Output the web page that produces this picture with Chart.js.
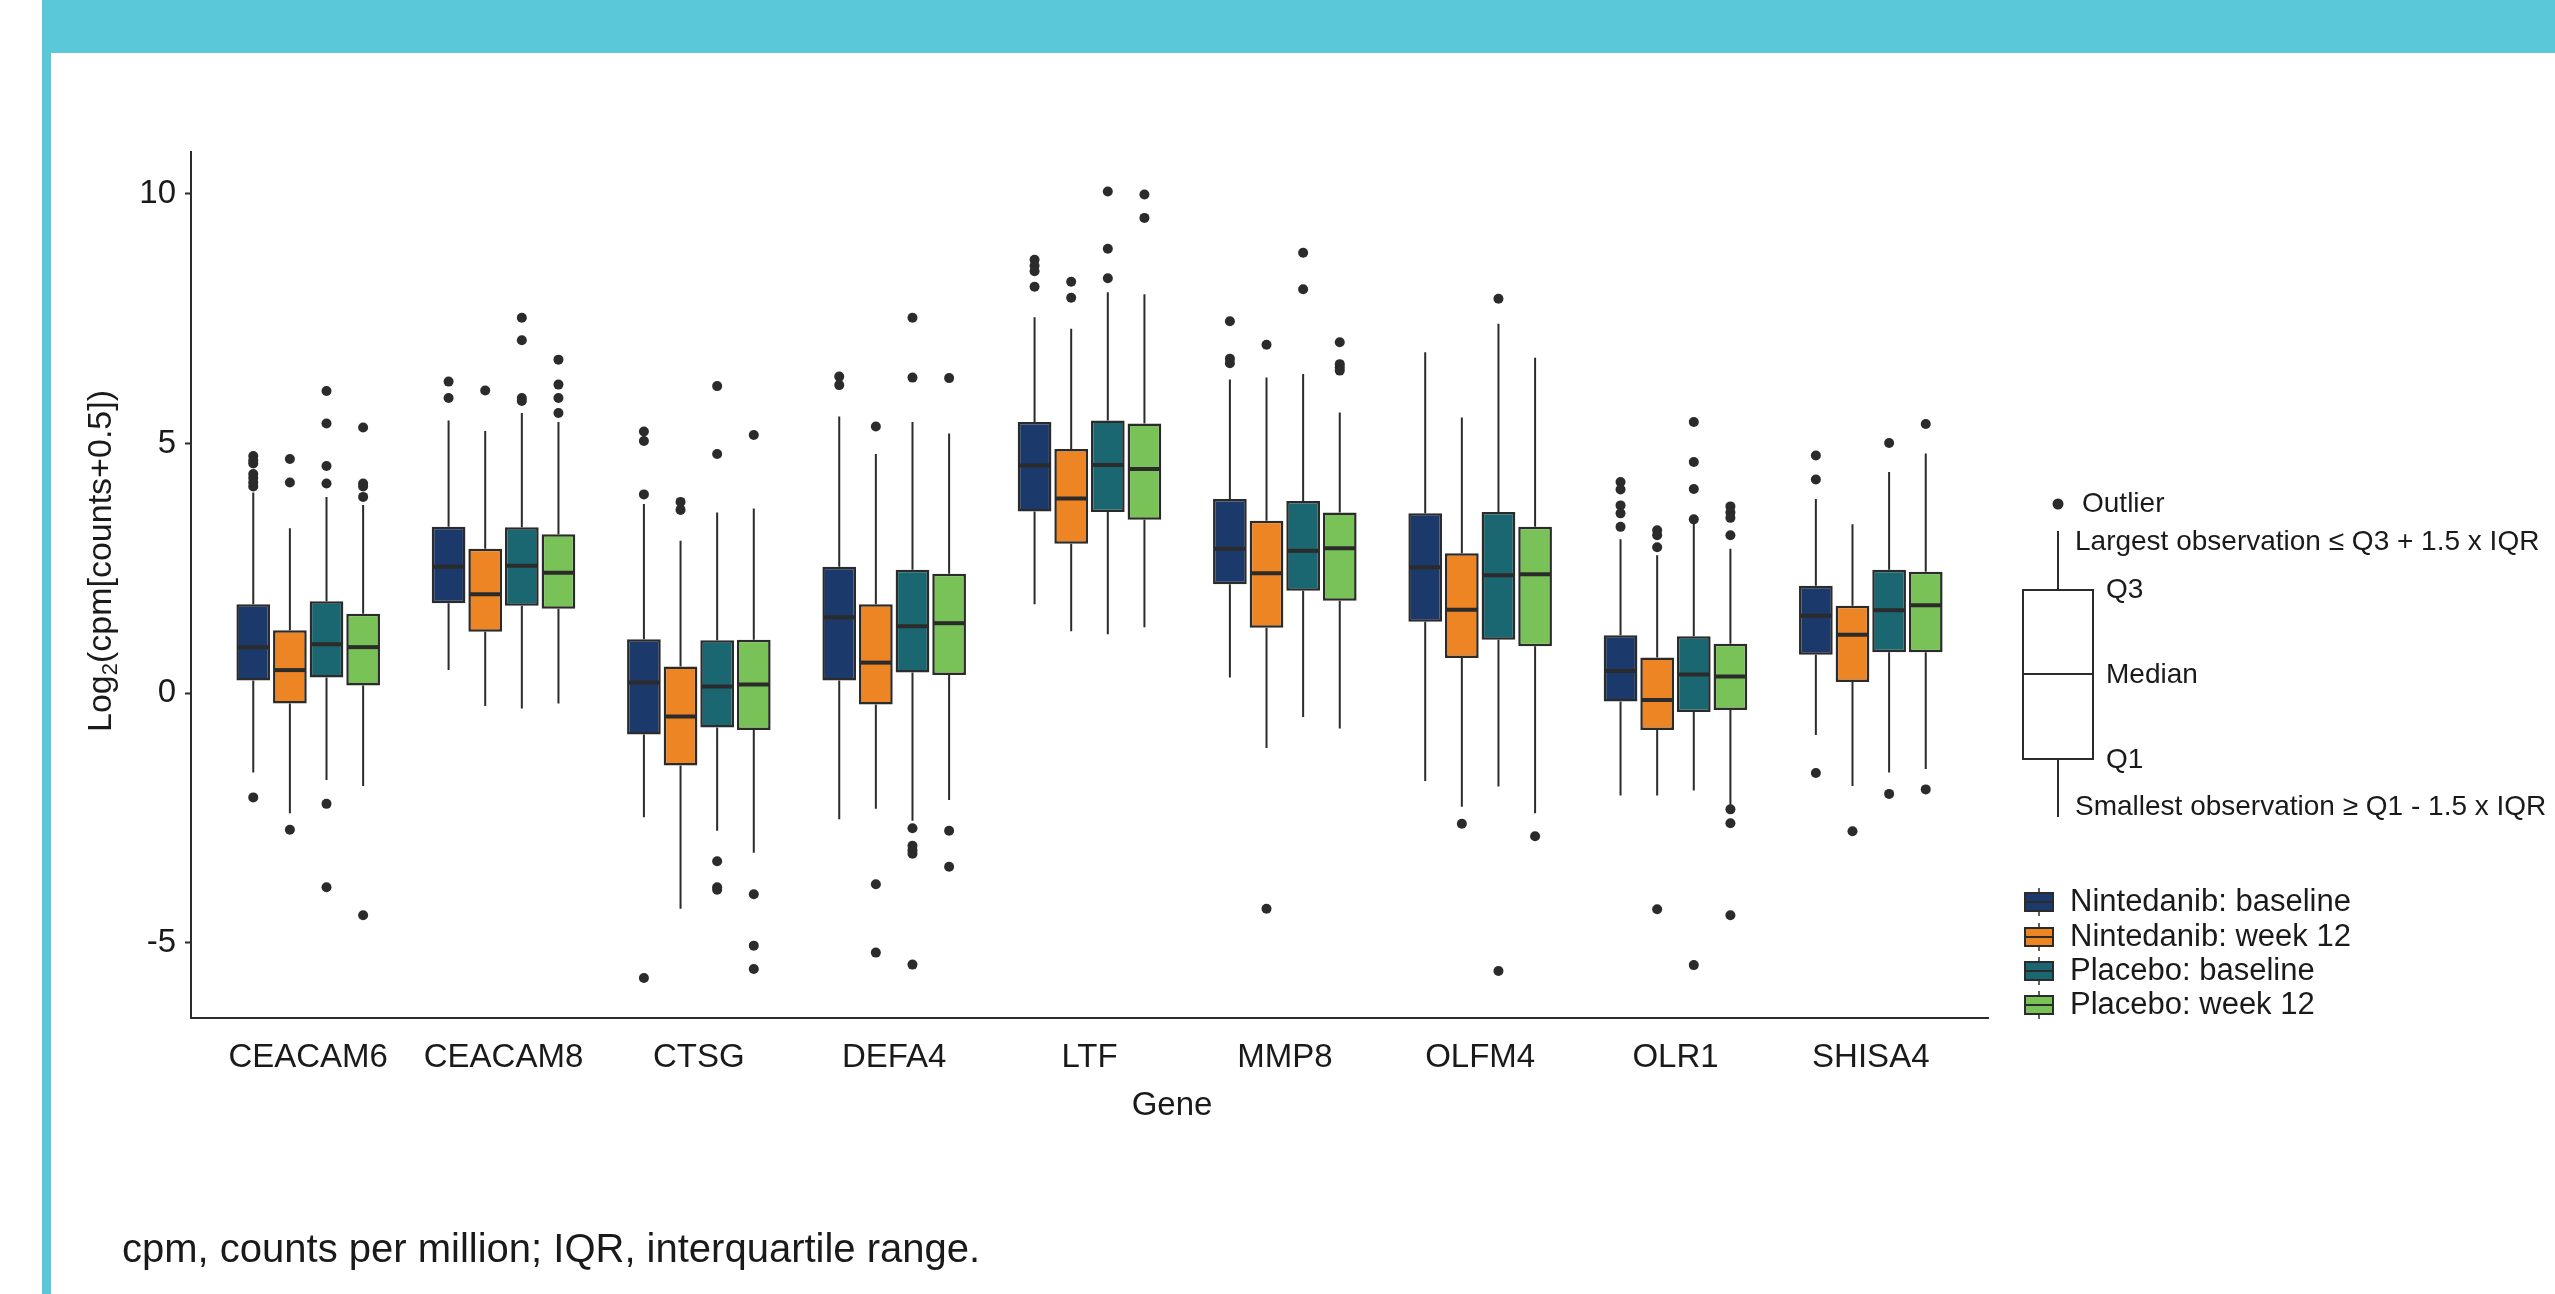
<!DOCTYPE html>
<html lang="en">
<head>
<meta charset="UTF-8">
<title>Gene expression boxplot</title>
<script src="https://cdn.jsdelivr.net/npm/chart.js"></script>
<style>
  html, body { margin: 0; padding: 0; background: #fff; }
  #wrap { position: relative; width: 2555px; height: 1294px; }
</style>
</head>
<body>
<div id="wrap"><canvas id="grafico" width="2555" height="1294"></canvas></div>

<script>
// categories and series
var genes = ['CEACAM6', 'CEACAM8', 'CTSG', 'DEFA4', 'LTF', 'MMP8', 'OLFM4', 'OLR1', 'SHISA4'];
var series = ['Nintedanib: baseline', 'Nintedanib: week 12', 'Placebo: baseline', 'Placebo: week 12'];
var cores = ['#1b3a6b', '#ee8524', '#1a6671', '#79c257'];
var yTicks = [-5, 0, 5, 10];

// one row per series, one value per gene
var q1 = [
  [0.25, 1.80, -0.83, 0.25, 3.64, 2.18, 1.43, -0.17, 0.77],
  [-0.21, 1.23, -1.45, -0.23, 2.99, 1.31, 0.70, -0.74, 0.22],
  [0.31, 1.75, -0.69, 0.41, 3.63, 2.05, 1.07, -0.38, 0.82],
  [0.15, 1.69, -0.74, 0.36, 3.47, 1.85, 0.94, -0.34, 0.82]
];
var mediana = [
  [0.92, 2.53, 0.21, 1.52, 4.56, 2.89, 2.52, 0.44, 1.55],
  [0.46, 1.98, -0.47, 0.61, 3.90, 2.40, 1.67, -0.14, 1.17],
  [0.98, 2.55, 0.13, 1.34, 4.57, 2.85, 2.36, 0.37, 1.66],
  [0.92, 2.41, 0.17, 1.40, 4.49, 2.90, 2.38, 0.33, 1.76]
];
var q3 = [
  [1.78, 3.33, 1.08, 2.53, 5.43, 3.89, 3.60, 1.16, 2.15],
  [1.26, 2.89, 0.53, 1.78, 4.89, 3.45, 2.80, 0.71, 1.75],
  [1.84, 3.32, 1.06, 2.47, 5.46, 3.85, 3.63, 1.14, 2.47],
  [1.59, 3.18, 1.07, 2.39, 5.40, 3.62, 3.33, 0.99, 2.43]
];
var bigodeMin = [
  [-1.59, 0.46, -2.49, -2.53, 1.78, 0.31, -1.76, -2.05, -0.84],
  [-2.41, -0.26, -4.32, -2.32, 1.24, -1.10, -2.28, -2.05, -1.86],
  [-1.74, -0.31, -2.76, -2.56, 1.18, -0.48, -1.87, -1.95, -1.59],
  [-1.86, -0.21, -3.20, -2.14, 1.32, -0.71, -2.41, -2.24, -1.52]
];
var bigodeMax = [
  [4.02, 5.46, 3.79, 5.54, 7.53, 6.28, 6.83, 3.08, 3.89],
  [3.30, 5.25, 3.05, 4.79, 7.30, 6.32, 5.52, 2.76, 3.38],
  [3.93, 5.61, 3.62, 5.43, 8.03, 6.39, 7.40, 3.39, 4.43],
  [3.77, 5.43, 3.70, 5.20, 7.99, 5.62, 6.72, 2.89, 4.80]
];
var outliers = [
  [[4.75, 4.66, 4.60, 4.39, 4.31, 4.22, 4.14, -2.09], [6.24, 5.91], [5.24, 5.05, 3.98, -5.71], [6.34, 6.17],
   [8.68, 8.56, 8.45, 8.14], [7.45, 6.70, 6.61], [], [4.23, 4.08, 3.76, 3.60, 3.33], [4.76, 4.28, -1.60]],
  [[4.69, 4.22, -2.74], [6.06], [3.83, 3.67], [5.34, -3.83, -5.20],
   [8.24, 7.92], [6.98, -4.32], [-2.62], [3.26, 3.16, 2.92, -4.33], [-2.77]],
  [[6.05, 5.40, 4.55, 4.20, -2.22, -3.89], [7.52, 7.07, 5.91, 5.85], [6.15, 4.79, -3.37, -3.89, -3.94],
   [7.52, 6.32, -2.71, -3.06, -3.15, -3.22, -5.44], [10.05, 8.90, 8.31], [8.82, 8.09], [7.90, -5.57],
   [5.43, 4.63, 4.09, 3.48, -5.45], [5.01, -2.02]],
  [[5.32, 4.20, 4.14, 3.93, -4.45], [6.68, 6.18, 5.91, 5.61], [5.17, -4.03, -5.06, -5.53], [6.31, -2.76, -3.48],
   [9.99, 9.52], [7.03, 6.59, 6.53, 6.46], [-2.87], [3.74, 3.62, 3.51, 3.16, -2.33, -2.61, -4.45], [5.39, -1.93]]
];

var FONTE = '"Liberation Sans", Arial, Helvetica, sans-serif';
var ESCURO = '#2b2b2b';
var TEXTO = '#1a1a1a';
var LARGURA_GRUPO = 0.75;

// montando os datasets: caixas (barras flutuantes) + outliers (scatter)
var datasets = [];
for (var j = 0; j < series.length; j++) {
  datasets.push({
    type: 'bar',
    label: series[j],
    data: genes.map(function (g, i) { return { x: i + 1, y: [q1[j][i], q3[j][i]] }; }),
    backgroundColor: cores[j],
    borderColor: ESCURO,
    borderWidth: 2.5,
    borderSkipped: false,
    categoryPercentage: LARGURA_GRUPO,
    barPercentage: 0.92
  });
}
for (var j = 0; j < series.length; j++) {
  var pontos = [];
  var desloc = (j - 1.5) * LARGURA_GRUPO / series.length;
  for (var i = 0; i < genes.length; i++) {
    outliers[j][i].forEach(function (v) { pontos.push({ x: i + 1 + desloc, y: v }); });
  }
  datasets.push({
    type: 'scatter',
    label: series[j] + ' outliers',
    data: pontos,
    pointRadius: 5,
    pointBackgroundColor: ESCURO,
    pointBorderWidth: 0
  });
}

function desenharTexto(ctx, txt, x, y, tam, align) {
  ctx.font = tam + 'px ' + FONTE;
  ctx.fillStyle = TEXTO;
  ctx.textAlign = align || 'left';
  ctx.textBaseline = 'middle';
  ctx.fillText(txt, x, y);
}

var boxplotPlugin = {
  id: 'boxplot',
  beforeDraw: function (chart) {
    var ctx = chart.ctx;
    ctx.save();
    ctx.fillStyle = '#ffffff';
    ctx.fillRect(0, 0, chart.width, chart.height);
    ctx.fillStyle = '#5bc8da';
    ctx.fillRect(42, 0, chart.width - 42, 53);
    ctx.fillRect(42, 53, 9, chart.height - 53);
    ctx.restore();
  },
  beforeDatasetsDraw: function (chart) {
    // bigodes
    var ctx = chart.ctx, y = chart.scales.y;
    ctx.save();
    ctx.strokeStyle = ESCURO;
    ctx.lineWidth = 2;
    for (var j = 0; j < series.length; j++) {
      chart.getDatasetMeta(j).data.forEach(function (bar, i) {
        ctx.beginPath();
        ctx.moveTo(bar.x, y.getPixelForValue(bigodeMin[j][i]));
        ctx.lineTo(bar.x, y.getPixelForValue(q1[j][i]));
        ctx.moveTo(bar.x, y.getPixelForValue(q3[j][i]));
        ctx.lineTo(bar.x, y.getPixelForValue(bigodeMax[j][i]));
        ctx.stroke();
      });
    }
    ctx.restore();
  },
  afterDatasetsDraw: function (chart) {
    // medianas
    var ctx = chart.ctx, y = chart.scales.y;
    ctx.save();
    ctx.strokeStyle = ESCURO;
    ctx.lineWidth = 4;
    for (var j = 0; j < series.length; j++) {
      chart.getDatasetMeta(j).data.forEach(function (bar, i) {
        var py = y.getPixelForValue(mediana[j][i]);
        ctx.beginPath();
        ctx.moveTo(bar.x - bar.width / 2 + 1, py);
        ctx.lineTo(bar.x + bar.width / 2 - 1, py);
        ctx.stroke();
      });
    }
    ctx.restore();
  },
  afterDraw: function (chart) {
    var ctx = chart.ctx;
    ctx.save();

    // titulo do eixo y com subscrito
    ctx.translate(102, 561);
    ctx.rotate(-Math.PI / 2);
    ctx.fillStyle = TEXTO;
    ctx.textBaseline = 'middle';
    ctx.textAlign = 'left';
    var partes = [['Log', 34, 0], ['2', 22, 9], ['(cpm[counts+0.5])', 34, 0]];
    var total = 0;
    partes.forEach(function (p) { ctx.font = p[1] + 'px ' + FONTE; total += ctx.measureText(p[0]).width; });
    var cx = -total / 2;
    partes.forEach(function (p) {
      ctx.font = p[1] + 'px ' + FONTE;
      ctx.fillText(p[0], cx, p[2]);
      cx += ctx.measureText(p[0]).width;
    });
    ctx.setTransform(1, 0, 0, 1, 0, 0);

    // titulo do eixo x
    desenharTexto(ctx, 'Gene', 1172, 1106, 33, 'center');

    // legenda explicativa do boxplot
    ctx.strokeStyle = ESCURO;
    ctx.lineWidth = 2;
    ctx.fillStyle = ESCURO;
    ctx.beginPath(); ctx.arc(2058, 504, 5.5, 0, Math.PI * 2); ctx.fill();
    desenharTexto(ctx, 'Outlier', 2082, 504, 28);
    ctx.beginPath();
    ctx.moveTo(2058, 531); ctx.lineTo(2058, 590);
    ctx.moveTo(2058, 759); ctx.lineTo(2058, 817);
    ctx.stroke();
    ctx.strokeRect(2023, 590, 70, 169);
    ctx.beginPath(); ctx.moveTo(2023, 674); ctx.lineTo(2093, 674); ctx.stroke();
    desenharTexto(ctx, 'Largest observation \u2264 Q3 + 1.5 x IQR', 2075, 542, 28);
    desenharTexto(ctx, 'Q3', 2106, 590, 28);
    desenharTexto(ctx, 'Median', 2106, 675, 28);
    desenharTexto(ctx, 'Q1', 2106, 760, 28);
    desenharTexto(ctx, 'Smallest observation \u2265 Q1 - 1.5 x IQR', 2075, 807, 28);

    // legenda das series
    var centros = [902, 937, 971, 1005];
    for (var j = 0; j < series.length; j++) {
      var c = centros[j];
      ctx.lineWidth = 1.5;
      ctx.strokeStyle = ESCURO;
      ctx.beginPath();
      ctx.moveTo(2039, c - 14); ctx.lineTo(2039, c + 14);
      ctx.stroke();
      ctx.fillStyle = cores[j];
      ctx.fillRect(2025, c - 9, 28, 18);
      ctx.lineWidth = 2;
      ctx.strokeRect(2025, c - 9, 28, 18);
      ctx.beginPath(); ctx.moveTo(2025, c); ctx.lineTo(2053, c); ctx.stroke();
      desenharTexto(ctx, series[j], 2070, c, 31);
    }

    // nota de rodape
    desenharTexto(ctx, 'cpm, counts per million; IQR, interquartile range.', 122, 1251, 40);
    ctx.restore();
  }
};

var grafico = new Chart(document.getElementById('grafico'), {
  type: 'bar',
  data: { datasets: datasets },
  options: {
    responsive: false,
    animation: false,
    events: [],
    layout: { padding: { left: 0, right: 567, top: 152, bottom: 0 } },
    plugins: { legend: { display: false }, tooltip: { enabled: false } },
    scales: {
      x: {
        type: 'linear',
        offset: false,
        min: 0.4,
        max: 9.6,
        afterBuildTicks: function (s) { s.ticks = genes.map(function (g, i) { return { value: i + 1 }; }); },
        afterFit: function (s) { s.height = 276; },
        grid: { display: false, offset: false },
        border: { display: true, color: ESCURO, width: 2 },
        ticks: {
          autoSkip: false,
          maxRotation: 0,
          padding: 12,
          color: TEXTO,
          font: { family: FONTE, size: 33 },
          callback: function (v) { return genes[Math.round(v) - 1] || ''; }
        }
      },
      y: {
        min: -6.51,
        max: 10.84,
        afterBuildTicks: function (s) { s.ticks = yTicks.map(function (v) { return { value: v }; }); },
        afterFit: function (s) { s.width = 191; },
        grid: { display: true, drawOnChartArea: false, drawTicks: true, tickLength: 6, tickColor: ESCURO, tickWidth: 2 },
        border: { display: true, color: ESCURO, width: 2 },
        ticks: { padding: 9, color: TEXTO, font: { family: FONTE, size: 33 } }
      }
    }
  },
  plugins: [boxplotPlugin]
});
</script>
</body>
</html>
